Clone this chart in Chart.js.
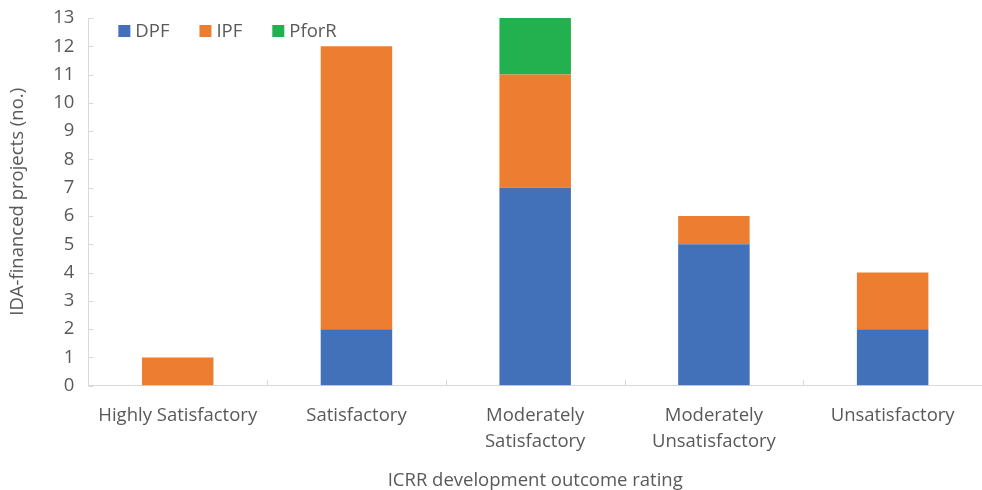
<!DOCTYPE html>
<html>
<head>
<meta charset="utf-8">
<script src="https://cdn.jsdelivr.net/npm/chart.js@4/dist/chart.umd.min.js"></script>
<style>
  html, body { margin: 0; padding: 0; background: #ffffff; }
  #wrap { width: 982px; height: 490px; position: relative; }
</style>
</head>
<body>
<div id="wrap"><canvas id="chart"></canvas></div>
<script>
// Categories and counts of IDA-financed projects by instrument
const categories = [
  'Highly Satisfactory',
  'Satisfactory',
  ['Moderately', 'Satisfactory'],
  ['Moderately', 'Unsatisfactory'],
  'Unsatisfactory'
];
const dpf = [0, 2, 7, 5, 2];
const ipf = [1, 10, 4, 1, 2];
const pforr = [0, 0, 2, 0, 0];
const yTicks = [0, 1, 2, 3, 4, 5, 6, 7, 8, 9, 10, 11, 12, 13];

const textColor = '#595959';
const axisColor = '#d9d9d9';
const fontFamily = "'Open Sans', 'Noto Sans', sans-serif";
const fontSize = 18.5;

// Short tick marks drawn on the inner side of both axes
const innerTicks = {
  id: 'innerTicks',
  afterDatasetsDraw(chart) {
    const { ctx, chartArea, scales } = chart;
    const x = scales.x, y = scales.y;
    ctx.save();
    ctx.strokeStyle = axisColor;
    ctx.lineWidth = 1;
    ctx.beginPath();
    yTicks.forEach(v => {
      const py = Math.round(y.getPixelForValue(v)) + 0.5;
      ctx.moveTo(chartArea.left, py);
      ctx.lineTo(chartArea.left + 5, py);
    });
    for (let i = 1; i < categories.length; i++) {
      const px = Math.round((x.getPixelForValue(i - 1) + x.getPixelForValue(i)) / 2) + 0.5;
      ctx.moveTo(px, chartArea.bottom);
      ctx.lineTo(px, chartArea.bottom - 6);
    }
    ctx.stroke();
    ctx.restore();
  }
};

// Single-row legend placed inside the plot, near its top-left corner
const insideLegend = {
  id: 'insideLegend',
  afterDraw(chart) {
    const { ctx, chartArea } = chart;
    ctx.save();
    ctx.font = `${fontSize}px ${fontFamily}`;
    ctx.textBaseline = 'middle';
    let px = chartArea.left + 30;
    const py = chartArea.top + 13;
    chart.data.datasets.forEach(ds => {
      ctx.fillStyle = ds.backgroundColor;
      ctx.fillRect(px, py - 6, 12, 12);
      px += 17;
      ctx.fillStyle = textColor;
      ctx.fillText(ds.label, px, py + 1);
      px += ctx.measureText(ds.label).width + 30;
    });
    ctx.restore();
  }
};

new Chart(document.getElementById('chart'), {
  type: 'bar',
  data: {
    labels: categories,
    datasets: [
      { label: 'DPF', data: dpf, backgroundColor: '#4271b9' },
      { label: 'IPF', data: ipf, backgroundColor: '#ed7d31' },
      { label: 'PforR', data: pforr, backgroundColor: '#23b04f' }
    ]
  },
  options: {
    responsive: true,
    maintainAspectRatio: false,
    animation: false,
    layout: { padding: { left: 7, right: 0, top: 18, bottom: 0 } },
    datasets: { bar: { categoryPercentage: 1, barPercentage: 0.4 } },
    plugins: {
      legend: { display: false },
      tooltip: { enabled: false }
    },
    scales: {
      x: {
        stacked: true,
        grid: { display: true, drawOnChartArea: false, drawTicks: false, color: axisColor },
        border: { color: axisColor },
        ticks: {
          color: textColor,
          font: { family: fontFamily, size: fontSize, lineHeight: 1.4 },
          padding: 17,
          maxRotation: 0,
          autoSkip: false
        },
        title: {
          display: true,
          text: 'ICRR development outcome rating',
          color: textColor,
          font: { family: fontFamily, size: fontSize, lineHeight: 1 },
          padding: { top: 0, bottom: 0 }
        }
      },
      y: {
        stacked: true,
        min: 0,
        max: 13,
        afterBuildTicks(scale) { scale.ticks = yTicks.map(v => ({ value: v })); },
        afterFit(scale) { scale.paddingTop = 0; scale.paddingBottom = 0; },
        grid: { display: true, drawOnChartArea: false, drawTicks: false, color: axisColor },
        border: { color: axisColor },
        ticks: {
          color: textColor,
          font: { family: fontFamily, size: fontSize, lineHeight: 1 },
          padding: 14
        },
        title: {
          display: true,
          text: 'IDA-financed projects (no.)',
          color: textColor,
          font: { family: fontFamily, size: fontSize },
          padding: { top: 0, bottom: 10 }
        }
      }
    }
  },
  plugins: [innerTicks, insideLegend]
});
</script>
</body>
</html>
